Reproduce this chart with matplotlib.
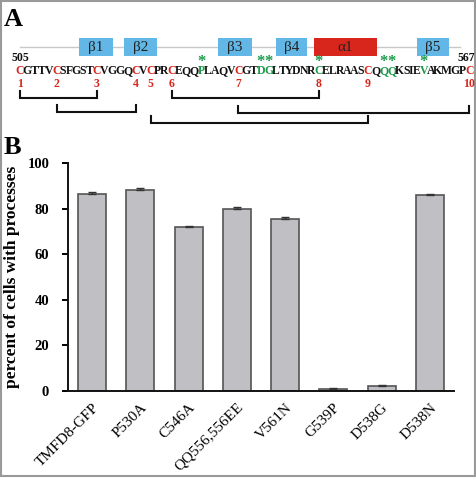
import matplotlib
matplotlib.use("Agg")
import matplotlib.pyplot as plt
from matplotlib.font_manager import FontProperties
from matplotlib.patches import Rectangle

# ---------------- data ----------------
categories = ["TMFD8-GFP", "P530A", "C546A", "QQ556,556EE", "V561N", "G539P", "D538G", "D538N"]
values = [86.5, 88.2, 72.0, 80.0, 75.5, 0.9, 2.4, 85.8]
errors = [0.9, 0.9, 0.5, 0.9, 0.6, 0.2, 0.4, 0.6]
yticks = [0, 20, 40, 60, 80, 100]
ylabel = "percent of cells with processes"

sequence = "CGTTVCSFGSTCVGGQCVCPRCEQQPLAQVCGTDGLTYDNRCELRAASCQQQKSIEVAKMGPC"
seq_start = 505
seq_end = 567
mutated_pos = [26, 34, 35, 42, 51, 52, 57]          # 1-based, green with asterisk
cys_labels = ["1", "2", "3", "4", "5", "6", "7", "8", "9", "10"]
disulfides = [(1, 3), (2, 4), (6, 8), (7, 10), (5, 9)]
ss_labels = ["β1", "β2", "β3", "β4", "α1", "β5"]
ss_x0 = [79, 124, 218, 276, 314, 417]
ss_x1 = [113, 157, 252, 307, 377, 449]
ss_kind = ["b", "b", "b", "b", "a", "b"]

W, H = 477, 478
fig = plt.figure(figsize=(W / 100, H / 100), dpi=100)
fig.patch.set_facecolor("white")

serif = "Liberation Serif"
RED = "#d9261c"
GREEN = "#1a9a4a"
BLUE = "#62b7e6"

# ---------------- panel B bar chart ----------------
ax = fig.add_axes([68 / W, 1 - 391 / H, (454 - 68) / W, (391 - 163) / H])
x = list(range(len(categories)))
ax.bar(x, values, width=0.58, color="#c0c0c4", edgecolor="#555555", linewidth=1.2, zorder=2)
ax.errorbar(x, values, yerr=[[0] * len(errors), errors], fmt="none", ecolor="#333333",
            elinewidth=1.0, capsize=3, capthick=1.0, zorder=3)
ax.set_xlim(-0.5, len(categories) - 0.5)
ax.set_ylim(0, 100)
ax.set_yticks(yticks)
ax.set_yticklabels([str(t) for t in yticks], fontfamily=serif, fontweight="bold", fontsize=10.5)
ax.set_xticks(x)
ax.set_xticklabels(categories, rotation=45, ha="right", rotation_mode="anchor",
                   fontfamily=serif, fontsize=11)
ax.tick_params(axis="x", length=0, pad=7)
ax.tick_params(axis="y", length=4.5, width=1.4, direction="out", pad=9)
for s in ["top", "right"]:
    ax.spines[s].set_visible(False)
for s in ["left", "bottom"]:
    ax.spines[s].set_linewidth(1.4)
    ax.spines[s].set_color("#111111")
ax.set_ylabel(ylabel, fontfamily=serif, fontweight="bold", fontsize=12.5, labelpad=5)

# ---------------- overlay axes (pixel coords) ----------------
ov = fig.add_axes([0, 0, 1, 1], zorder=-1)
ov.set_xlim(0, W)
ov.set_ylim(H, 0)
ov.axis("off")

ov.add_patch(Rectangle((1, 1), W - 3, H - 3, fill=False, edgecolor="#999999", lw=1.5))
ov.text(4, 26, "A", fontfamily=serif, fontweight="bold", fontsize=19, va="baseline", ha="left")
ov.text(4, 154, "B", fontfamily=serif, fontweight="bold", fontsize=19, va="baseline", ha="left")

# secondary structure line and boxes
ov.plot([20, 460], [47, 47], color="#c8c8c8", lw=1.0, zorder=1)
for lab, a, b, k in zip(ss_labels, ss_x0, ss_x1, ss_kind):
    ov.add_patch(Rectangle((a, 38), b - a, 18, facecolor=BLUE if k == "b" else RED,
                           edgecolor="none", zorder=2))
    ov.text((a + b) / 2, 47.5, lab, ha="center", va="center", fontfamily=serif,
            fontsize=11, color="#222222", zorder=3)

# sequence layout: natural advances, compressed to fit the span
fig.canvas.draw()
renderer = fig.canvas.get_renderer()
x_left, x_right = 16, 473
fs = 8.5
fp = FontProperties(family=serif, weight="bold", size=fs)
def width(s):
    return renderer.get_text_width_height_descent(s, fp, ismath=False)[0] if s else 0.0
full_w = width(sequence)
k = (x_right - x_left) / full_w
centers = []
for i, ch in enumerate(sequence):
    cw = width(ch)
    cx = x_left + k * (width(sequence[:i]) + cw / 2)
    centers.append(cx)
    pos = i + 1
    if pos in mutated_pos:
        col = GREEN
    elif ch == "C":
        col = RED
    else:
        col = "#111111"
    ov.text(cx, 74, ch, fontproperties=fp, color=col, ha="center", va="baseline")
    if pos in mutated_pos:
        ov.text(cx, 66, "*", fontfamily=serif, fontweight="bold", fontsize=12,
                color=GREEN, ha="center", va="baseline")

ov.text(12, 61, str(seq_start), fontfamily=serif, fontweight="bold", fontsize=8.5,
        ha="left", va="baseline", color="#111111")
ov.text(475, 61, str(seq_end), fontfamily=serif, fontweight="bold", fontsize=8.5,
        ha="right", va="baseline", color="#111111")

cys_idx = [i for i, ch in enumerate(sequence) if ch == "C"]
for lab, i in zip(cys_labels, cys_idx):
    ov.text(centers[i], 87, lab, fontfamily=serif, fontweight="bold", fontsize=8.5,
            color=RED, ha="center", va="baseline")

bracket_y = {(1, 3): (91, 98), (2, 4): (105, 112), (6, 8): (91, 98),
             (7, 10): (106, 113), (5, 9): (116, 123)}
for a, b in disulfides:
    y0, y1 = bracket_y[(a, b)]
    xa = centers[cys_idx[a - 1]]
    xb = centers[cys_idx[b - 1]]
    ov.plot([xa, xa, xb, xb], [y0, y1, y1, y0], color="#111111", lw=1.5,
            solid_joinstyle="miter")

fig.savefig("out.png", dpi=100)
